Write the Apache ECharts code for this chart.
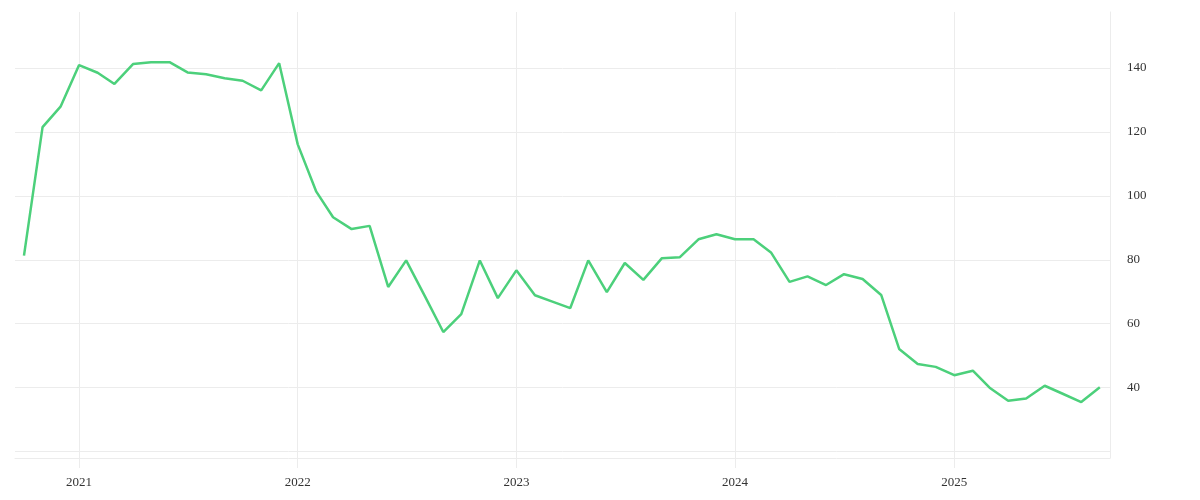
<!DOCTYPE html>
<html>
<head>
<meta charset="utf-8">
<script src="https://cdn.jsdelivr.net/npm/echarts@6/dist/echarts.min.js"></script>
<style>
  html, body { margin: 0; padding: 0; background: #fff; }
  #main { width: 1200px; height: 500px; }
</style>
</head>
<body>
<div id="main"></div>
<script>
// monthly points, Oct 2020 .. Sep 2025
var months = [
  '2020-10-01', '2020-11-01', '2020-12-01',
  '2021-01-01', '2021-02-01', '2021-03-01', '2021-04-01', '2021-05-01', '2021-06-01',
  '2021-07-01', '2021-08-01', '2021-09-01', '2021-10-01', '2021-11-01', '2021-12-01',
  '2022-01-01', '2022-02-01', '2022-03-01', '2022-04-01', '2022-05-01', '2022-06-01',
  '2022-07-01', '2022-08-01', '2022-09-01', '2022-10-01', '2022-11-01', '2022-12-01',
  '2023-01-01', '2023-02-01', '2023-03-01', '2023-04-01', '2023-05-01', '2023-06-01',
  '2023-07-01', '2023-08-01', '2023-09-01', '2023-10-01', '2023-11-01', '2023-12-01',
  '2024-01-01', '2024-02-01', '2024-03-01', '2024-04-01', '2024-05-01', '2024-06-01',
  '2024-07-01', '2024-08-01', '2024-09-01', '2024-10-01', '2024-11-01', '2024-12-01',
  '2025-01-01', '2025-02-01', '2025-03-01', '2025-04-01', '2025-05-01', '2025-06-01',
  '2025-07-01', '2025-08-01', '2025-09-01'
];
var values = [
  81.3, 121.5, 127.9,
  140.9, 138.5, 135.0, 141.2, 141.8, 141.8, 138.6, 138.0, 136.8, 136.0, 133.0, 141.5,
  116.1, 101.3, 93.3, 89.6, 90.6, 71.5, 79.8, 68.7, 57.4, 63.0, 79.8, 68.0,
  76.7, 68.9, 67.0, 64.9, 79.8, 69.9, 79.0, 73.7, 80.5, 80.8, 86.4, 88.0,
  86.4, 86.4, 82.3, 73.1, 74.8, 72.1, 75.5, 74.0, 69.0, 52.1, 47.4, 46.5,
  43.9, 45.3, 40.0, 35.9, 36.6, 40.6, 38.1, 35.5, 40.1
];
var yLabels = [40, 60, 80, 100, 120, 140];

var gridColor = '#ececec';
var textStyle = { color: '#333', fontFamily: 'Liberation Serif', fontSize: 13 };

var chart = echarts.init(document.getElementById('main'), null, { renderer: 'canvas' });

var seriesData = months.map(function (m, i) { return [m, values[i]]; });

var option = {
  animation: false,
  grid: { left: 15, right: 90, top: 12, bottom: 42, containLabel: false },
  xAxis: {
    type: 'time',
    min: '2020-09-16',
    max: '2025-09-18',
    minInterval: 365 * 24 * 3600 * 1000,
    axisLine: { show: true, lineStyle: { color: gridColor } },
    axisTick: { show: true, length: 10, lineStyle: { color: gridColor } },
    splitLine: { show: true, showMinLine: false, showMaxLine: false, lineStyle: { color: gridColor } },
    axisLabel: Object.assign({
      margin: 18,
      formatter: function (v) { return String(new Date(v).getFullYear()); }
    }, textStyle)
  },
  yAxis: {
    type: 'value',
    position: 'right',
    min: 18,
    max: 157.5,
    splitNumber: 7,
    minInterval: 20,
    maxInterval: 20,
    axisLine: { show: true, lineStyle: { color: gridColor } },
    axisTick: { show: false },
    splitLine: { show: true, showMinLine: false, showMaxLine: false, lineStyle: { color: gridColor } },
    axisLabel: Object.assign({
      margin: 17,
      showMinLabel: false,
      showMaxLabel: false,
      formatter: function (v) { return yLabels.indexOf(v) >= 0 ? String(v) : ''; }
    }, textStyle)
  },
  series: [{
    type: 'line',
    data: seriesData,
    showSymbol: false,
    symbol: 'none',
    lineStyle: { color: '#4cd07b', width: 2.5 },
    itemStyle: { color: '#4cd07b' }
  }]
};

chart.setOption(option);
</script>
</body>
</html>
